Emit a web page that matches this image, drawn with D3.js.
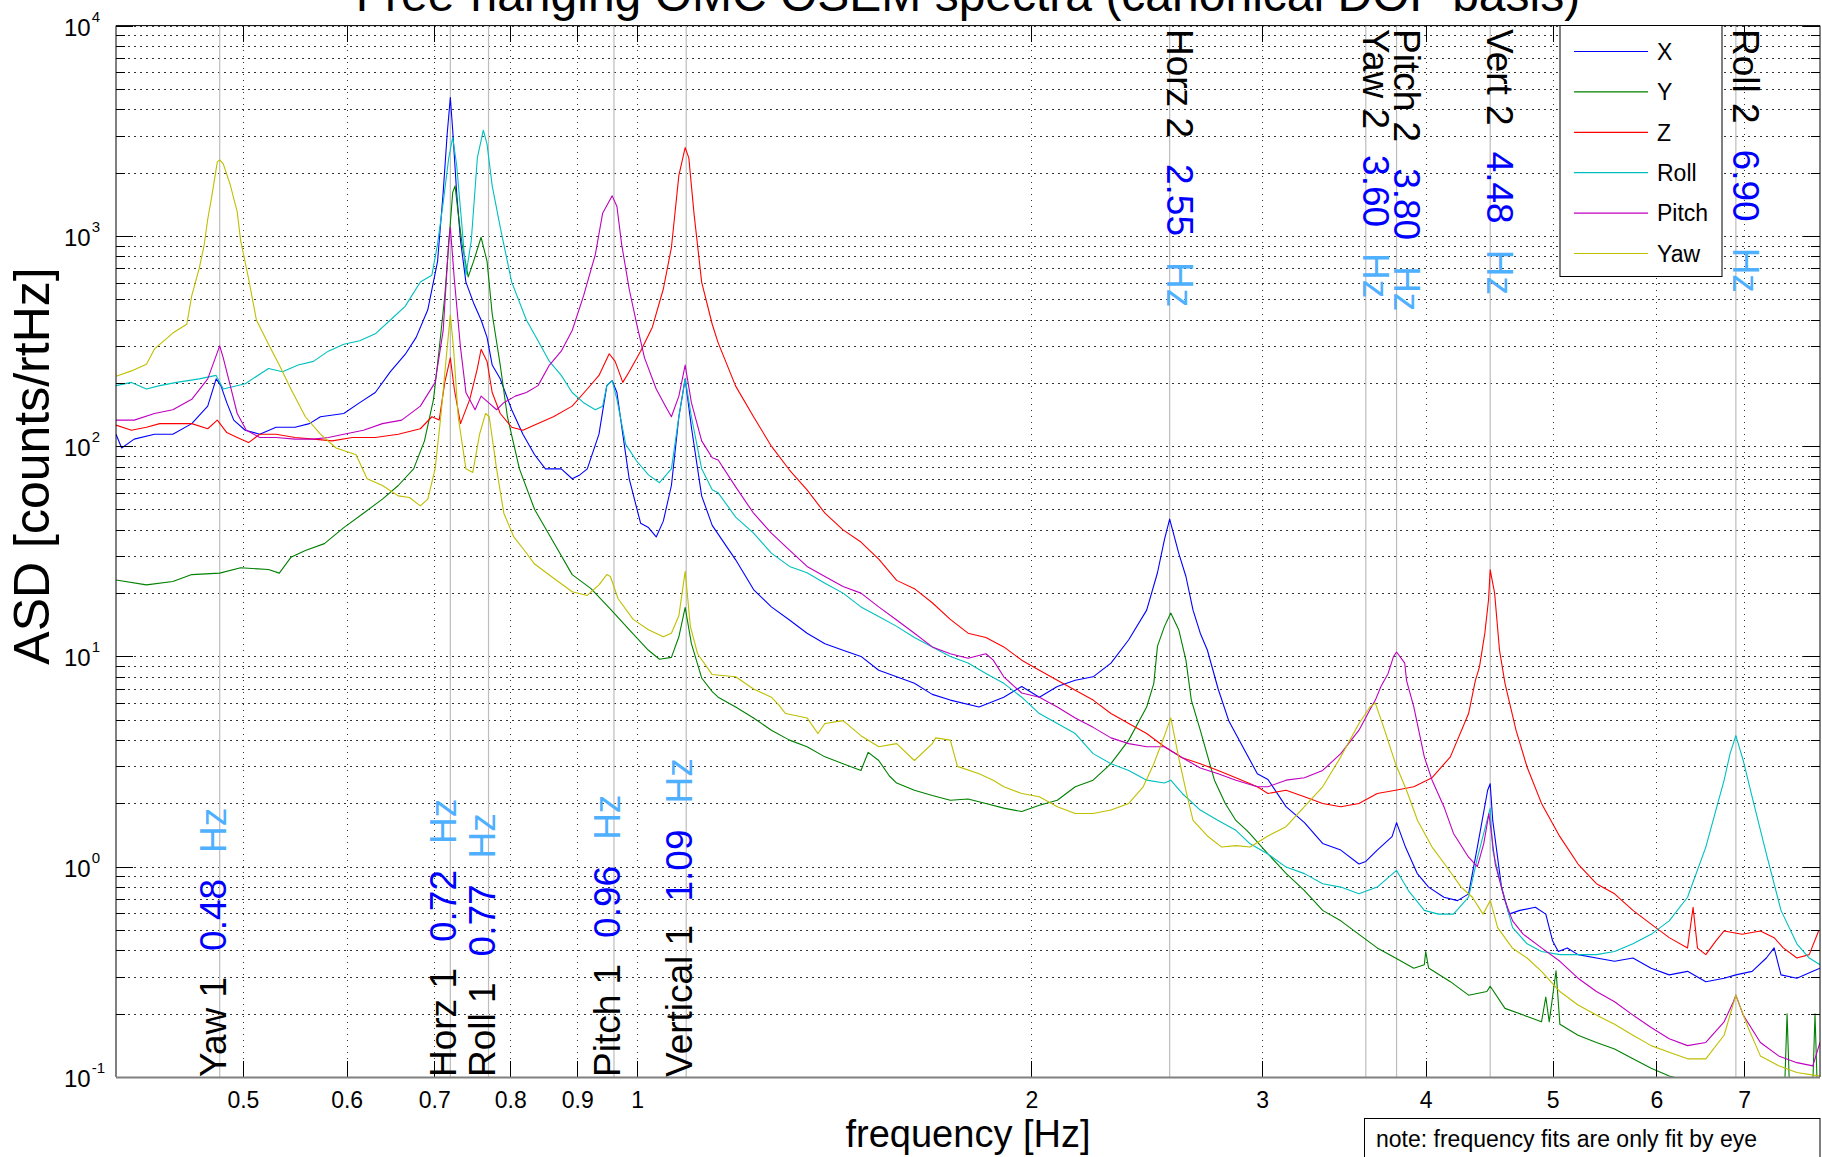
<!DOCTYPE html>
<html lang="en">
<head>
<meta charset="utf-8">
<title>Free-hanging OMC OSEM spectra</title>
<script src="https://cdn.jsdelivr.net/npm/d3@7/dist/d3.min.js"></script>
<style>
  body { margin: 0; background: #fff; }
  svg { display: block; font-family: "Liberation Sans", Arial, Helvetica, sans-serif; }
  .grid line { stroke: #111; stroke-dasharray: 1.5,4.5; stroke-opacity: 0.85; shape-rendering: crispEdges; }
  .grid path, .axis path { display: none; }
  .axis line { stroke: #000; shape-rendering: crispEdges; }
  .axis text { font-size: 23px; fill: #000; }
</style>
</head>
<body>
<script>

// ---- data (frequency in Hz, ASD in counts/rtHz) ----
var seriesNames = ["X", "Y", "Z", "Roll", "Pitch", "Yaw"];

var xData = [[0.400,114],[0.404,98],[0.413,108],[0.428,114],[0.442,114],[0.457,128],[0.470,155],[0.477,209],[0.481,194],[0.486,161],[0.492,133],[0.502,119],[0.515,114],[0.530,123],[0.548,123],[0.562,128],[0.573,138],[0.597,143],[0.614,161],[0.631,180],[0.648,226],[0.665,273],[0.678,329],[0.692,445],[0.704,756],[0.711,1610],[0.716,3050],[0.720,4550],[0.723,3180],[0.728,1610],[0.733,950],[0.740,603],[0.750,480],[0.760,398],[0.768,329],[0.775,243],[0.786,209],[0.802,149],[0.818,114],[0.835,91],[0.851,78],[0.875,78],[0.892,70],[0.904,73],[0.916,78],[0.935,114],[0.948,194],[0.957,205],[0.965,180],[0.975,114],[0.986,70],[1.006,43],[1.020,41],[1.034,37],[1.047,44],[1.062,65],[1.076,138],[1.088,209],[1.100,123],[1.120,58],[1.141,42],[1.189,28.8],[1.227,20.8],[1.266,17.2],[1.307,14.9],[1.348,12.9],[1.391,11.5],[1.436,10.7],[1.482,10],[1.529,8.6],[1.578,8.0],[1.628,7.45],[1.680,6.6],[1.734,6.2],[1.824,5.75],[1.905,6.4],[1.966,7.2],[2.028,6.4],[2.093,7.2],[2.160,7.7],[2.229,8.0],[2.300,9.3],[2.373,12],[2.449,16.6],[2.496,25],[2.527,36],[2.55,45],[2.591,31],[2.624,24],[2.657,16.6],[2.691,12.9],[2.725,10.7],[2.777,7.0],[2.829,4.95],[2.901,3.7],[2.975,2.77],[3.031,2.6],[3.129,1.93],[3.232,1.62],[3.337,1.29],[3.445,1.2],[3.557,1.03],[3.60,1.06],[3.673,1.2],[3.77,1.39],[3.80,1.62],[3.86,1.24],[3.94,0.93],[4.02,0.80],[4.13,0.716],[4.23,0.69],[4.313,0.743],[4.38,1.24],[4.46,2.31],[4.48,2.48],[4.50,1.66],[4.57,0.80],[4.63,0.595],[4.72,0.62],[4.85,0.641],[4.94,0.595],[5.0,0.443],[5.05,0.395],[5.13,0.411],[5.228,0.382],[5.400,0.368],[5.575,0.355],[5.758,0.368],[5.945,0.329],[6.137,0.306],[6.338,0.318],[6.545,0.284],[6.759,0.295],[6.9,0.306],[7.1,0.318],[7.28,0.368],[7.38,0.411],[7.47,0.306],[7.681,0.295],[7.9,0.318],[8.0,0.329]];

var yData = [[0.400,23.1],[0.422,21.9],[0.442,22.7],[0.457,24.5],[0.480,24.9],[0.498,26.4],[0.523,25.9],[0.533,24.9],[0.544,29.6],[0.558,31.9],[0.577,34.4],[0.597,41],[0.618,48],[0.639,56],[0.657,65],[0.675,78],[0.688,106],[0.699,167],[0.706,289],[0.713,518],[0.718,913],[0.723,1610],[0.726,1730],[0.730,1280],[0.735,913],[0.743,638],[0.750,756],[0.760,985],[0.768,756],[0.775,425],[0.786,243],[0.796,138],[0.813,78],[0.835,50],[0.863,35],[0.892,24.5],[0.922,21.0],[0.954,16.8],[0.986,13.4],[1.020,10.7],[1.040,9.7],[1.062,9.9],[1.076,12.4],[1.088,17.1],[1.100,11.5],[1.120,7.9],[1.141,6.8],[1.153,6.4],[1.189,5.75],[1.227,5.1],[1.266,4.46],[1.307,4.0],[1.348,3.72],[1.391,3.33],[1.436,3.09],[1.482,2.87],[1.501,3.5],[1.529,3.2],[1.558,2.7],[1.578,2.5],[1.628,2.31],[1.680,2.18],[1.734,2.07],[1.789,2.1],[1.846,2.0],[1.905,1.9],[1.966,1.83],[2.028,1.96],[2.093,2.07],[2.160,2.4],[2.229,2.58],[2.300,3.09],[2.373,4.0],[2.449,5.75],[2.48,7.45],[2.496,11.2],[2.527,13.9],[2.555,16.1],[2.591,13.4],[2.624,9.6],[2.649,6.2],[2.691,4.46],[2.759,2.58],[2.812,2.0],[2.865,1.66],[2.920,1.49],[2.935,1.44],[3.031,1.15],[3.129,0.93],[3.232,0.77],[3.337,0.62],[3.445,0.553],[3.557,0.477],[3.673,0.411],[3.793,0.368],[3.917,0.329],[3.99,0.342],[4.0,0.395],[4.02,0.33],[4.177,0.284],[4.313,0.245],[4.454,0.255],[4.48,0.27],[4.598,0.212],[4.749,0.197],[4.903,0.183],[4.94,0.24],[4.97,0.183],[5.03,0.32],[5.064,0.178],[5.228,0.158],[5.400,0.146],[5.575,0.136],[5.758,0.122],[5.945,0.11],[6.137,0.101],[6.338,0.096],[6.545,0.094],[6.9,0.097],[7.2,0.094],[7.52,0.093],[7.55,0.2],[7.58,0.093],[7.9,0.093],[7.93,0.2],[7.96,0.092],[8.0,0.092]];

var zData = [[0.400,126],[0.411,119],[0.422,123],[0.432,128],[0.445,128],[0.457,128],[0.470,121],[0.478,133],[0.486,116],[0.495,110],[0.505,104],[0.515,114],[0.530,114],[0.548,110],[0.566,108],[0.585,106],[0.606,110],[0.631,110],[0.657,114],[0.683,121],[0.697,138],[0.706,133],[0.713,201],[0.720,263],[0.725,187],[0.733,128],[0.745,167],[0.755,234],[0.760,289],[0.768,253],[0.775,180],[0.786,143],[0.802,123],[0.818,119],[0.835,126],[0.863,138],[0.892,155],[0.916,187],[0.935,217],[0.952,275],[0.962,253],[0.975,201],[0.986,226],[1.006,283],[1.027,368],[1.047,559],[1.062,880],[1.076,1940],[1.088,2630],[1.095,2350],[1.105,1280],[1.120,603],[1.141,380],[1.153,310],[1.189,193],[1.227,138],[1.266,100],[1.307,77],[1.348,62],[1.391,48],[1.436,40],[1.482,35],[1.529,29],[1.578,23],[1.628,21],[1.680,18],[1.734,15],[1.789,12.9],[1.846,12.3],[1.905,11.1],[1.966,9.6],[2.028,8.6],[2.093,7.7],[2.160,6.9],[2.229,6.2],[2.300,5.35],[2.373,4.8],[2.449,4.3],[2.527,3.72],[2.607,3.3],[2.691,3.09],[2.777,2.87],[2.865,2.65],[2.975,2.4],[3.031,2.23],[3.129,2.31],[3.232,2.15],[3.337,2.0],[3.445,1.93],[3.557,2.0],[3.673,2.23],[3.793,2.31],[3.917,2.4],[4.045,2.65],[4.177,3.33],[4.313,5.35],[4.365,7.7],[4.396,8.9],[4.438,12.9],[4.467,18.6],[4.48,25.8],[4.515,20],[4.554,10.7],[4.598,7.45],[4.688,4.46],[4.78,2.98],[4.903,2.0],[5.064,1.39],[5.228,1.03],[5.400,0.83],[5.575,0.743],[5.758,0.62],[5.945,0.533],[6.137,0.46],[6.338,0.411],[6.4,0.641],[6.45,0.41],[6.545,0.382],[6.66,0.443],[6.759,0.495],[6.976,0.477],[7.204,0.495],[7.38,0.46],[7.5,0.411],[7.681,0.368],[7.85,0.382],[7.98,0.495]];

var rollData = [[0.400,194],[0.411,201],[0.422,187],[0.432,194],[0.445,201],[0.463,209],[0.477,217],[0.483,187],[0.502,198],[0.523,234],[0.536,226],[0.551,243],[0.566,253],[0.581,283],[0.597,305],[0.614,317],[0.631,342],[0.648,398],[0.665,462],[0.683,603],[0.697,650],[0.704,913],[0.711,1440],[0.718,2350],[0.723,2940],[0.728,2180],[0.735,1100],[0.740,650],[0.747,950],[0.755,2350],[0.763,3180],[0.768,2730],[0.775,1730],[0.786,1100],[0.802,603],[0.823,398],[0.840,317],[0.857,253],[0.875,217],[0.892,180],[0.910,161],[0.929,149],[0.941,155],[0.948,194],[0.957,205],[0.965,167],[0.980,102],[0.999,85],[1.020,73],[1.040,67],[1.062,78],[1.076,138],[1.088,209],[1.100,138],[1.120,78],[1.141,62],[1.153,60],[1.189,46],[1.227,38.6],[1.266,31],[1.307,26.8],[1.348,25],[1.391,22.3],[1.436,20],[1.482,17.2],[1.529,15.5],[1.578,13.9],[1.628,12.3],[1.680,11.1],[1.734,10],[1.789,9.3],[1.846,8.3],[1.905,7.45],[1.966,6.4],[2.028,5.35],[2.093,4.8],[2.160,4.3],[2.229,3.45],[2.300,3.09],[2.373,2.87],[2.449,2.58],[2.527,2.5],[2.555,2.58],[2.607,2.23],[2.691,1.86],[2.777,1.66],[2.865,1.49],[2.935,1.29],[3.031,1.15],[3.129,0.996],[3.232,0.927],[3.337,0.83],[3.445,0.80],[3.557,0.743],[3.673,0.80],[3.80,0.96],[3.88,0.77],[3.99,0.62],[4.09,0.595],[4.2,0.595],[4.313,0.716],[4.38,1.1],[4.48,1.9],[4.50,1.2],[4.57,0.8],[4.66,0.513],[4.78,0.43],[4.903,0.395],[5.064,0.382],[5.228,0.382],[5.400,0.382],[5.575,0.395],[5.758,0.43],[5.945,0.477],[6.137,0.553],[6.338,0.716],[6.545,1.24],[6.759,2.58],[6.83,3.45],[6.90,4.2],[6.99,3.2],[7.1,2.15],[7.28,1.15],[7.47,0.62],[7.681,0.43],[7.85,0.368],[8.0,0.342]];

var pitchData = [[0.400,133],[0.413,133],[0.428,143],[0.442,149],[0.457,167],[0.470,209],[0.480,300],[0.483,263],[0.489,194],[0.495,143],[0.503,119],[0.515,110],[0.530,110],[0.548,108],[0.566,108],[0.581,110],[0.597,114],[0.618,119],[0.639,128],[0.661,133],[0.683,155],[0.701,201],[0.711,355],[0.718,950],[0.720,1100],[0.725,626],[0.733,294],[0.740,180],[0.752,149],[0.760,173],[0.770,161],[0.781,149],[0.791,161],[0.807,173],[0.823,180],[0.840,194],[0.857,243],[0.875,283],[0.892,355],[0.910,518],[0.929,815],[0.941,1280],[0.957,1550],[0.965,1380],[0.973,913],[0.986,559],[0.999,383],[1.013,263],[1.034,187],[1.051,155],[1.062,138],[1.076,173],[1.088,243],[1.100,161],[1.120,106],[1.141,88],[1.153,86],[1.189,64],[1.227,48],[1.266,38.6],[1.307,32],[1.348,26.8],[1.391,24],[1.436,21.5],[1.482,20],[1.529,17.2],[1.578,14.9],[1.628,12.9],[1.680,11.1],[1.734,10.3],[1.789,9.8],[1.846,10.3],[1.870,9.6],[1.905,8.0],[1.966,6.7],[2.028,6.4],[2.093,5.75],[2.160,5.1],[2.229,4.6],[2.300,4.1],[2.373,3.85],[2.449,3.72],[2.527,3.72],[2.607,3.3],[2.691,2.95],[2.777,2.77],[2.865,2.58],[2.975,2.4],[3.031,2.4],[3.129,2.58],[3.232,2.65],[3.337,2.87],[3.445,3.45],[3.557,4.46],[3.627,5.6],[3.661,6.2],[3.697,7.2],[3.744,8.3],[3.78,10],[3.80,10.5],[3.855,9.3],[3.867,7.7],[3.917,5.75],[3.99,3.33],[4.045,2.58],[4.13,1.93],[4.2,1.44],[4.313,1.11],[4.38,1.0],[4.43,1.29],[4.47,1.79],[4.52,1.03],[4.598,0.69],[4.66,0.553],[4.749,0.477],[4.903,0.411],[5.064,0.355],[5.228,0.295],[5.400,0.255],[5.575,0.228],[5.758,0.197],[5.945,0.172],[6.137,0.152],[6.338,0.141],[6.545,0.146],[6.759,0.183],[6.87,0.228],[6.90,0.245],[6.99,0.197],[7.204,0.146],[7.439,0.126],[7.681,0.117],[7.9,0.113],[8.0,0.146]];

var yawData = [[0.400,215],[0.411,228],[0.422,245],[0.428,290],[0.436,320],[0.442,345],[0.453,380],[0.457,520],[0.463,700],[0.467,900],[0.470,1200],[0.473,1500],[0.478,2250],[0.480,2300],[0.483,2200],[0.489,1750],[0.495,1300],[0.498,950],[0.505,626],[0.512,398],[0.523,305],[0.533,243],[0.544,187],[0.558,138],[0.573,114],[0.589,98],[0.610,91],[0.622,70],[0.639,65],[0.657,58],[0.670,57],[0.683,52],[0.692,56],[0.701,78],[0.708,138],[0.716,294],[0.720,420],[0.724,294],[0.730,138],[0.740,78],[0.749,75],[0.758,114],[0.766,143],[0.771,138],[0.781,78],[0.791,48],[0.805,37],[0.820,32],[0.835,27.5],[0.863,23.6],[0.892,20.3],[0.916,19.5],[0.935,21.9],[0.948,24.5],[0.954,24.0],[0.967,18.8],[0.993,15.0],[1.020,13.4],[1.047,12.4],[1.062,12.9],[1.076,15.6],[1.088,25.4],[1.098,13.9],[1.112,10.3],[1.141,8.2],[1.189,8.0],[1.227,7.0],[1.266,6.4],[1.282,5.9],[1.298,5.35],[1.348,5.1],[1.374,4.3],[1.391,4.8],[1.436,4.95],[1.482,4.2],[1.529,3.72],[1.578,3.85],[1.628,3.2],[1.680,3.85],[1.690,4.1],[1.734,4.0],[1.756,3.0],[1.824,2.77],[1.870,2.58],[1.905,2.4],[1.966,2.23],[2.028,2.15],[2.093,1.93],[2.160,1.79],[2.229,1.79],[2.300,1.86],[2.373,2.0],[2.434,2.4],[2.480,3.09],[2.527,4.2],[2.555,5.1],[2.591,3.3],[2.624,2.3],[2.657,1.66],[2.725,1.4],[2.794,1.24],[2.865,1.26],[2.938,1.24],[3.031,1.4],[3.129,1.55],[3.232,1.93],[3.337,2.4],[3.445,3.33],[3.557,4.8],[3.627,5.75],[3.661,6.0],[3.721,4.46],[3.793,3.09],[3.867,2.31],[3.943,1.66],[4.045,1.24],[4.150,1.0],[4.257,0.80],[4.342,0.716],[4.424,0.595],[4.481,0.69],[4.539,0.513],[4.657,0.411],[4.78,0.368],[4.903,0.318],[5.064,0.255],[5.228,0.22],[5.400,0.197],[5.575,0.178],[5.758,0.158],[5.945,0.141],[6.137,0.131],[6.338,0.122],[6.545,0.122],[6.759,0.158],[6.90,0.245],[7.05,0.172],[7.204,0.126],[7.439,0.113],[7.681,0.105],[8.0,0.101]];

// resonance annotations
var modeNames = ["Yaw 1", "Horz 1", "Roll 1", "Pitch 1", "Vertical 1", "Horz 2", "Yaw 2", "Pitch 2", "Vert 2", "Roll 2"];
var modeFreqs = [0.48, 0.72, 0.77, 0.96, 1.09, 2.55, 3.60, 3.80, 4.48, 6.90];
var modeAtTop = [false, false, false, false, false, true, true, true, true, true];

// axis ticks
var xTickValues = [0.5, 0.6, 0.7, 0.8, 0.9, 1, 2, 3, 4, 5, 6, 7];
var yDecades = [0.1, 1, 10, 100, 1000, 10000];
var yDecadeExps = ["-1", "0", "1", "2", "3", "4"];

// ---- layout / style ----
var w = 1822, h = 1157;
var plotL = 116, plotR = 1820, plotT = 25.6, plotB = 1077;
var colors = ["#0000ff", "#008000", "#ff0000", "#00bfbf", "#bf00bf", "#bfbf00"];
var allSeries = [xData, yData, zData, rollData, pitchData, yawData];

var svg = d3.select("body").append("svg").attr("width", w).attr("height", h);

var xScale = d3.scaleLog().domain([0.4, 8]).range([plotL, plotR]);
var yScale = d3.scaleLog().domain([0.1, 10000]).range([plotB, plotT]);

svg.append("rect").attr("width", w).attr("height", h).attr("fill", "#fff");

// title (cropped at the top of the figure, as in the original)
svg.append("text")
   .attr("x", (plotL + plotR) / 2).attr("y", 11)
   .attr("text-anchor", "middle")
   .attr("font-size", "48px")
   .text("Free-hanging OMC OSEM spectra (canonical DOF basis)");

// dotted grid
var yGridValues = yScale.ticks();
svg.append("g").attr("class", "grid")
   .attr("transform", "translate(0," + plotB + ")")
   .call(d3.axisBottom(xScale).tickValues(xTickValues).tickSize(-(plotB - plotT)).tickFormat(""));
svg.append("g").attr("class", "grid")
   .attr("transform", "translate(" + plotL + ",0)")
   .call(d3.axisLeft(yScale).tickValues(yGridValues).tickSize(-(plotR - plotL)).tickFormat(""));

// resonance marker lines
svg.append("g").selectAll("line")
   .data(modeFreqs)
   .enter().append("line")
   .attr("x1", function(d) { return xScale(d); })
   .attr("x2", function(d) { return xScale(d); })
   .attr("y1", plotT).attr("y2", plotB)
   .attr("stroke", "#bdbdbd").attr("stroke-width", 1.2);

// curves
svg.append("clipPath").attr("id", "plotClip")
   .append("rect").attr("x", plotL).attr("y", plotT)
   .attr("width", plotR - plotL).attr("height", plotB - plotT);

var line = d3.line()
   .x(function(d) { return xScale(d[0]); })
   .y(function(d) { return yScale(d[1]); });

svg.append("g").attr("clip-path", "url(#plotClip)")
   .selectAll("path")
   .data(allSeries)
   .enter().append("path")
   .attr("d", line)
   .attr("fill", "none")
   .attr("stroke", function(d, i) { return colors[i]; })
   .attr("stroke-width", 1.1)
   .attr("stroke-linejoin", "round");

// axes: bottom with labels, top ticks only
var xAxis = d3.axisBottom(xScale).tickValues(xTickValues)
   .tickFormat(d3.format("")).tickSizeInner(-16).tickSizeOuter(0).tickPadding(15);
svg.append("g").attr("class", "axis")
   .attr("transform", "translate(0," + plotB + ")")
   .call(xAxis);
svg.append("g").attr("class", "axis")
   .attr("transform", "translate(0," + plotT + ")")
   .call(d3.axisTop(xScale).tickValues(xTickValues).tickFormat("").tickSizeInner(-16).tickSizeOuter(0));

// y axis: minor ticks, major ticks, both sides
var yMinor = yGridValues.filter(function(v) { return yDecades.indexOf(v) < 0; });
svg.append("g").attr("class", "axis").attr("transform", "translate(" + plotL + ",0)")
   .call(d3.axisLeft(yScale).tickValues(yMinor).tickFormat("").tickSizeInner(-9).tickSizeOuter(0));
svg.append("g").attr("class", "axis").attr("transform", "translate(" + plotR + ",0)")
   .call(d3.axisRight(yScale).tickValues(yMinor).tickFormat("").tickSizeInner(-9).tickSizeOuter(0));
svg.append("g").attr("class", "axis").attr("transform", "translate(" + plotL + ",0)")
   .call(d3.axisLeft(yScale).tickValues(yDecades).tickFormat("").tickSizeInner(-17).tickSizeOuter(0));
svg.append("g").attr("class", "axis").attr("transform", "translate(" + plotR + ",0)")
   .call(d3.axisRight(yScale).tickValues(yDecades).tickFormat("").tickSizeInner(-17).tickSizeOuter(0));

// decade labels 10^n
var yLab = svg.append("g").selectAll("text")
   .data(yDecades)
   .enter().append("text")
   .attr("x", 64)
   .attr("y", function(d) { return yScale(d) + 10; })
   .attr("font-size", "24px");
yLab.append("tspan").text("10");
yLab.append("tspan")
   .attr("dy", -14).attr("dx", 1)
   .attr("font-size", "15px")
   .text(function(d, i) { return yDecadeExps[i]; });

// frame
svg.append("line").attr("x1", plotL).attr("x2", plotR).attr("y1", plotT).attr("y2", plotT).attr("stroke", "#000");
svg.append("line").attr("x1", plotL).attr("x2", plotL).attr("y1", plotT).attr("y2", plotB).attr("stroke", "#000");
svg.append("line").attr("x1", plotR).attr("x2", plotR).attr("y1", plotT).attr("y2", plotB).attr("stroke", "#000");
svg.append("line").attr("x1", plotL).attr("x2", plotR).attr("y1", plotB + 0.5).attr("y2", plotB + 0.5)
   .attr("stroke", "#808080").attr("stroke-width", 2);

// resonance labels
var modeLab = svg.append("g").selectAll("text")
   .data(modeFreqs)
   .enter().append("text")
   .attr("font-size", "37px")
   .attr("transform", function(d, i) {
      return modeAtTop[i]
         ? "translate(" + (xScale(d) - 3) + "," + 29 + ") rotate(90)"
         : "translate(" + (xScale(d) + 6) + "," + 1077 + ") rotate(-90)";
   });
modeLab.append("tspan").attr("fill", "#000").text(function(d, i) { return modeNames[i]; });
modeLab.append("tspan").attr("fill", "#0000ff").attr("dx", 26).text(function(d) { return d.toFixed(2); });
modeLab.append("tspan").attr("fill", "#4fb0ff").attr("dx", 26).text("Hz");

// axis labels
svg.append("text")
   .attr("x", (plotL + plotR) / 2).attr("y", 1147)
   .attr("text-anchor", "middle").attr("font-size", "38px")
   .text("frequency [Hz]");
svg.append("text")
   .attr("transform", "translate(49,466) rotate(-90)")
   .attr("text-anchor", "middle").attr("font-size", "50px")
   .text("ASD [counts/rtHz]");

// legend
var legX = 1560, legY = 25.5, legW = 162, legH = 251, legRow = 40.4;
svg.append("rect").attr("x", legX).attr("y", legY).attr("width", legW).attr("height", legH)
   .attr("fill", "#fff").attr("stroke", "#000").attr("stroke-width", 1);
var leg = svg.append("g").selectAll("g")
   .data(seriesNames)
   .enter().append("g")
   .attr("transform", function(d, i) { return "translate(0," + (legY + 26 + i * legRow) + ")"; });
leg.append("line").attr("x1", legX + 14).attr("x2", legX + 88)
   .attr("stroke", function(d, i) { return colors[i]; }).attr("stroke-width", 1.2);
leg.append("text").attr("x", legX + 97).attr("dy", "0.36em")
   .attr("font-size", "23px").text(function(d) { return d; });

// note box
svg.append("rect").attr("x", 1364.5).attr("y", 1118.5).attr("width", 455.5).attr("height", 50)
   .attr("fill", "#fff").attr("stroke", "#000");
svg.append("text").attr("x", 1376).attr("y", 1147).attr("font-size", "23px")
   .text("note: frequency fits are only fit by eye");

</script>
</body>
</html>
